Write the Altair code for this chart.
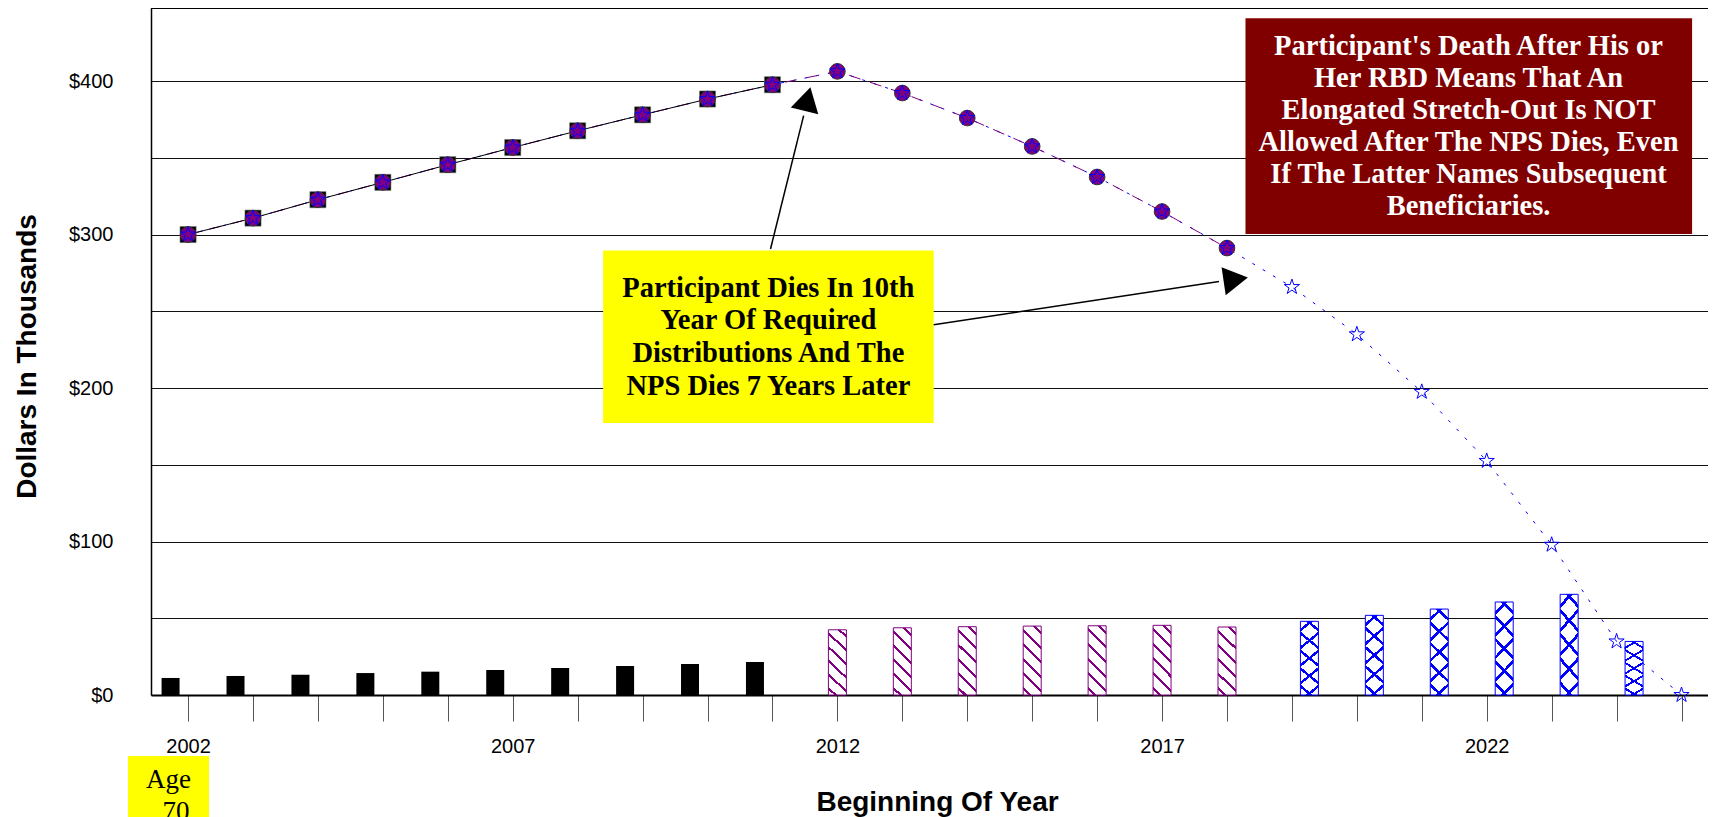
import altair as alt
import pandas as pd

# ---------------- data ----------------
years = list(range(2002, 2026))
balance = [300.0, 310.7, 322.7, 334.0, 345.5, 356.7, 367.6, 378.0, 388.3, 397.6,
           406.3, 392.2, 375.9, 357.4, 337.5, 315.0, 291.2,
           265.8, 235.0, 197.5, 152.5, 97.9, 34.9, 0.0]
participant_last_year = 2011
nps_last_year = 2018

dist_participant_years = list(range(2002, 2012))
dist_participant = [11.1, 12.4, 13.2, 14.3, 15.2, 16.3, 17.6, 18.9, 20.2, 21.5]
dist_nps_years = list(range(2012, 2019))
dist_nps = [42.5, 43.8, 44.5, 44.9, 45.1, 45.4, 44.3]
dist_sub_years = list(range(2019, 2025))
dist_sub = [48.0, 51.9, 56.0, 60.6, 65.6, 34.9]

y_grid_values = [0, 50, 100, 150, 200, 250, 300, 350, 400]

yellow_lines = ["Participant Dies In 10th", "Year Of Required",
                "Distributions And The", "NPS Dies 7 Years Later"]
red_lines = ["Participant's Death After His or", "Her RBD Means That An",
             "Elongated Stretch-Out Is NOT", "Allowed After The NPS Dies, Even",
             "If The Latter Names Subsequent", "Beneficiaries."]
age_lines = ["Age", "70"]

# annotation anchors (data units: year / thousands of dollars)
yellow_box = {"x0": [2008.392], "x1": [2013.483], "y0": [177.2], "y1": [289.6]}
yellow_text_x = 2010.937
yellow_text_y = [259.6, 238.2, 216.9, 195.5]
red_box = {"x0": [2018.285], "x1": [2025.163], "y0": [300.3], "y1": [441.0]}
red_text_x = 2021.72
red_text_y = [417.0, 396.2, 375.3, 354.5, 333.6, 312.8]
arrow_x0 = [2010.970, 2013.483]
arrow_y0 = [290.55, 241.2]
arrow_x1 = [2011.480, 2017.877]
arrow_y1 = [377.5, 269.4]
head_x = [2011.524, 2018.073]
head_y = [385.7, 270.4]
head_angle = [13.85, 81.6]

# ---------------- tables ----------------
bal = pd.DataFrame({"year": years, "value": balance})
bal_part = bal[bal["year"] <= participant_last_year]
bal_nps = bal[bal["year"] <= nps_last_year]
bars_part = pd.DataFrame({"year": dist_participant_years, "value": dist_participant})
bars_nps = pd.DataFrame({"year": dist_nps_years, "value": dist_nps})
bars_sub = pd.DataFrame({"year": dist_sub_years, "value": dist_sub})
ydf = pd.DataFrame(yellow_box)
rdf = pd.DataFrame(red_box)
ytxt = pd.DataFrame({"x": [yellow_text_x] * len(yellow_lines), "y": yellow_text_y, "t": yellow_lines})
rtxt = pd.DataFrame({"x": [red_text_x] * len(red_lines), "y": red_text_y, "t": red_lines})
arrows = pd.DataFrame({"x0": arrow_x0, "y0": arrow_y0, "x1": arrow_x1, "y1": arrow_y1})
one = pd.DataFrame({"k": [0]})

W, H = 1557, 687
xs = alt.Scale(domain=[2001.506, 2025.331], nice=False, zero=False)
ys = alt.Scale(domain=[0, 447.6], nice=False, zero=True)

PURPLE = "#800080"
BLUE = "#0000FF"
STAR = ("M0,-1L0.2245,-0.309L0.951,-0.309L0.363,0.118L0.588,0.809L0,0.382"
        "L-0.588,0.809L-0.363,0.118L-0.951,-0.309L-0.2245,-0.309Z")


def hatch(n, a, width, fg, bg, direction):
    c = (1 + a) / (1 + a * a)
    if direction == "back":
        x1, y1, x2, y2 = 0, 1, a * c, 1 - c
    else:
        x1, y1, x2, y2 = 0, 0, a * c, c
    stops = [{"offset": 0, "color": bg}]
    for k in range(n):
        m = (k + 0.5) / n
        lo, hi = m - width / 2, m + width / 2
        stops += [{"offset": lo, "color": bg}, {"offset": lo, "color": fg},
                  {"offset": hi, "color": fg}, {"offset": hi, "color": bg}]
    stops.append({"offset": 1, "color": bg})
    return {"gradient": "linear", "x1": x1, "y1": y1, "x2": x2, "y2": y2, "stops": stops}


x_axis = alt.Axis(values=years, format="d",
                  labelExpr="(datum.value - 2002) % 5 == 0 ? datum.label : ''",
                  tickSize=26, tickColor="#555555", tickWidth=1,
                  domainColor="black", domainWidth=2, grid=False,
                  labelFont="Liberation Sans", labelFontSize=20, labelColor="black",
                  labelPadding=15, labelFlush=False, labelOverlap=False,
                  title="Beginning Of Year", titleFont="Liberation Sans", titleFontSize=28,
                  titleFontWeight="bold", titleColor="black", titleX=786, titleY=115,
                  titleAlign="center", titleBaseline="alphabetic")
y_axis = alt.Axis(values=y_grid_values,
                  labelExpr="datum.value % 100 == 0 ? '$' + datum.value : ''",
                  grid=True, gridColor="#111111", gridWidth=1, ticks=False,
                  domainColor="black", domainWidth=1.5,
                  labelFont="Liberation Sans", labelFontSize=20, labelColor="black",
                  labelPadding=38, labelOverlap=False,
                  title="Dollars In Thousands", titleFont="Liberation Sans", titleFontSize=28,
                  titleFontWeight="bold", titleColor="black", titleAngle=270,
                  titleX=-116, titleY=348, titleAlign="center", titleBaseline="alphabetic")


# every layer carries the identical axis definition so the shared axes merge cleanly
def X(f):
    return alt.X(f, type="quantitative", scale=xs, axis=x_axis)


def Y(f, **kw):
    return alt.Y(f, type="quantitative", scale=ys, axis=y_axis, **kw)


layers = []

# top frame
layers.append(alt.Chart(one).mark_rule(color="black", strokeWidth=1).encode(
    x=alt.value(0), x2=alt.value(W), y=alt.value(0.5)))

# bars
layers.append(alt.Chart(bars_part).mark_bar(color="black", size=18, xOffset=-17.5).encode(
    x=X("year"), y=Y("value", stack=None)))
layers.append(alt.Chart(bars_nps).mark_bar(
    fill=hatch(6, 0.26, 0.035, PURPLE, "white", "back"), stroke=PURPLE, strokeWidth=1,
    size=18).encode(x=X("year"), y=Y("value", stack=None)))
layers.append(alt.Chart(bars_sub).mark_bar(
    fill=hatch(5, 0.2, 0.035, BLUE, "white", "back"), stroke=BLUE, strokeWidth=1,
    size=18, xOffset=17.5).encode(x=X("year"), y=Y("value", stack=None)))
layers.append(alt.Chart(bars_sub).mark_bar(
    fill=hatch(5, 0.2, 0.035, BLUE, "transparent", "fwd"), strokeWidth=0,
    size=18, xOffset=17.5).encode(x=X("year"), y=Y("value", stack=None)))

# lines
layers.append(alt.Chart(bal).mark_line(color=BLUE, strokeWidth=1, strokeDash=[3, 9]).encode(
    x=X("year"), y=Y("value")))
layers.append(alt.Chart(bal_nps).mark_line(color=PURPLE, strokeWidth=1, strokeDash=[12, 10]).encode(
    x=X("year"), y=Y("value")))
layers.append(alt.Chart(bal_part).mark_line(color="black", strokeWidth=1).encode(
    x=X("year"), y=Y("value")))

# markers
layers.append(alt.Chart(bal_part).mark_point(shape="square", filled=True, size=260,
                                             color="black", stroke="#777777", strokeWidth=0.6,
                                             opacity=1).encode(x=X("year"), y=Y("value")))
layers.append(alt.Chart(bal_nps).mark_point(shape="circle", filled=True, size=245,
                                            fill=PURPLE, stroke="#333333", strokeWidth=1,
                                            opacity=1).encode(x=X("year"), y=Y("value")))
layers.append(alt.Chart(bal).mark_point(shape=STAR, filled=False, size=256,
                                        stroke=BLUE, strokeWidth=1, opacity=1).encode(
    x=X("year"), y=Y("value")))

# yellow annotation
layers.append(alt.Chart(ydf).mark_rect(color="#FFFF00").encode(
    x=X("x0"), x2="x1:Q", y=Y("y0"), y2="y1:Q"))
layers.append(alt.Chart(ytxt).mark_text(font="Liberation Serif", fontWeight="bold", fontSize=28.5,
                                        align="center", baseline="alphabetic", color="black").encode(
    x=X("x"), y=Y("y"), text="t:N"))
layers.append(alt.Chart(arrows).mark_rule(color="black", strokeWidth=1.5).encode(
    x=X("x0"), y=Y("y0"), x2="x1:Q", y2="y1:Q"))
for hx, hy, ha in zip(head_x, head_y, head_angle):
    layers.append(alt.Chart(pd.DataFrame({"x": [hx], "y": [hy]})).mark_point(
        shape="triangle", filled=True, size=800, color="black", opacity=1, angle=ha).encode(
        x=X("x"), y=Y("y")))

# red annotation
layers.append(alt.Chart(rdf).mark_rect(color="#800000").encode(
    x=X("x0"), x2="x1:Q", y=Y("y0"), y2="y1:Q"))
layers.append(alt.Chart(rtxt).mark_text(font="Liberation Serif", fontWeight="bold", fontSize=28.5,
                                        align="center", baseline="alphabetic", color="white").encode(
    x=X("x"), y=Y("y"), text="t:N"))

# age tag under the first year (pixel placement below the axis)
layers.append(alt.Chart(one).mark_rect(color="#FFFF00").encode(
    x=alt.value(-23), x2=alt.value(58), y=alt.value(748), y2=alt.value(815)))
layers.append(alt.Chart(one).mark_text(font="Liberation Serif", fontSize=27, align="center",
                                       baseline="alphabetic", color="black",
                                       text=age_lines[0]).encode(
    x=alt.value(17.5), y=alt.value(780)))
layers.append(alt.Chart(one).mark_text(font="Liberation Serif", fontSize=27, align="center",
                                       baseline="alphabetic", color="black",
                                       text=age_lines[1]).encode(
    x=alt.value(25), y=alt.value(812)))

chart = alt.layer(*layers).properties(
    width=W, height=H,
    background="white",
    autosize=alt.AutoSizeParams(type="none"),
    padding={"left": 143, "top": 0, "right": 0, "bottom": 122},
).configure_view(stroke="transparent")

chart.save("out.html", embed_options={"renderer": "svg", "actions": False})
